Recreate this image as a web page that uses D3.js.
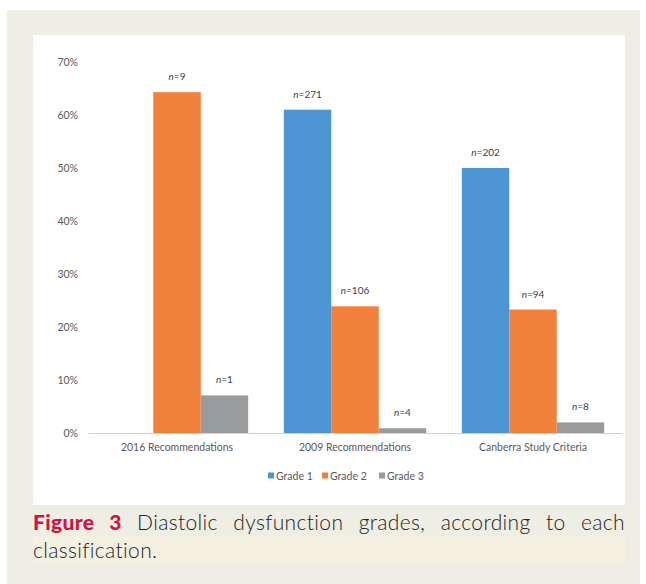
<!DOCTYPE html>
<html>
<head>
<meta charset="utf-8">
<script src="https://cdn.jsdelivr.net/npm/d3@7"></script>
<style>
  body { margin: 0; background: #ffffff; }
  #frame { position: absolute; left: 7px; top: 10px; width: 633px; height: 574px; background: #efeee4; }
  #caption { position: absolute; left: 33px; top: 508px; width: 592px; font-family: "Lato", sans-serif; font-weight: 300; font-size: 21px; letter-spacing: 0.35px; line-height: 28px; color: #222222; }
  #caption .l1 { text-align: justify; text-align-last: justify; }
  #caption .l2 { background: #f4f1e3; }
  #caption b { color: #d5123f; font-weight: 900; }
  #chart { position: absolute; left: 0; top: 0; }
</style>
</head>
<body>
<div id="frame"></div>
<svg id="chart" width="646" height="584"></svg>
<div id="caption">
  <div class="l1"><b>Figure 3</b> Diastolic dysfunction grades, according to each</div>
  <div class="l2">classification.</div>
</div>
<script>
// the data
const categories = ["2016 Recommendations", "2009 Recommendations", "Canberra Study Criteria"]
const grades = ["Grade 1", "Grade 2", "Grade 3"]
const grade1 = [0, 61.0, 50.0]
const grade2 = [64.3, 23.9, 23.3]
const grade3 = [7.1, 0.9, 2.0]
const grade1N = [null, 271, 202]
const grade2N = [9, 106, 94]
const grade3N = [1, 4, 8]
const yTicks = [0, 10, 20, 30, 40, 50, 60, 70]

const colors = ["#4e95d3", "#f0803a", "#9a9b9d"]

const svg = d3.select("#chart")

// white chart panel
svg.append("rect")
  .attr("x", 33).attr("y", 35)
  .attr("width", 592).attr("height", 470)
  .attr("fill", "#ffffff")

const x = d3.scaleBand()
  .domain(categories)
  .range([88, 622])
  .paddingInner(0.2)
  .paddingOuter(0.1)

const xInner = d3.scaleBand()
  .domain(grades)
  .range([0, x.bandwidth()])

const y = d3.scaleLinear()
  .domain([0, 70])
  .range([433, 62])

// y axis labels (no line, no grid)
const yAxis = svg.append("g")
  .attr("transform", "translate(78,0)")
  .call(d3.axisLeft(y).tickValues(yTicks).tickFormat(d => d + "%").tickSize(0).tickPadding(0))
yAxis.select(".domain").remove()
yAxis.selectAll("text")
  .style("font-family", "Lato, sans-serif")
  .style("font-size", "10.5px")
  .attr("fill", "#595959")

// build rows for the bars
const values = [grade1, grade2, grade3]
const counts = [grade1N, grade2N, grade3N]
const rows = []
categories.forEach(function(c, i) {
  grades.forEach(function(g, j) {
    rows.push({ cat: c, grade: g, value: values[j][i], n: counts[j][i], color: colors[j] })
  })
})

svg.append("g").selectAll("rect")
  .data(rows.filter(d => d.value > 0))
  .join("rect")
  .attr("x", d => x(d.cat) + xInner(d.grade))
  .attr("y", d => y(d.value))
  .attr("width", xInner.bandwidth())
  .attr("height", d => y(0) - y(d.value))
  .attr("fill", d => d.color)

// n= labels
const lab = svg.append("g").selectAll("text")
  .data(rows.filter(d => d.n !== null))
  .join("text")
  .attr("x", d => x(d.cat) + xInner(d.grade) + xInner.bandwidth() / 2)
  .attr("y", d => y(d.value) - 12)
  .attr("text-anchor", "middle")
  .style("font-family", "Lato, sans-serif")
  .style("font-size", "10px")
  .attr("fill", "#404040")
lab.append("tspan").style("font-style", "italic").text("n")
lab.append("tspan").text(d => "=" + d.n)

// x axis
const xAxis = svg.append("g")
  .attr("transform", "translate(0,433)")
  .call(d3.axisBottom(x).tickSize(0).tickPadding(11))
xAxis.select(".domain").attr("stroke", "#d0d0d0")
xAxis.selectAll("text")
  .style("font-family", "Lato, sans-serif")
  .style("font-size", "10.5px")
  .attr("fill", "#595959")

// legend
const legend = svg.append("g").attr("transform", "translate(268,476)")
const legendX = [0, 54, 111]
grades.forEach(function(g, j) {
  legend.append("rect")
    .attr("x", legendX[j]).attr("y", -3.5)
    .attr("width", 6).attr("height", 6)
    .attr("fill", colors[j])
  legend.append("text")
    .attr("x", legendX[j] + 8).attr("y", 3.5)
    .style("font-family", "Lato, sans-serif")
    .style("font-size", "10.5px")
    .attr("fill", "#595959")
    .text(g)
})
</script>
</body>
</html>
